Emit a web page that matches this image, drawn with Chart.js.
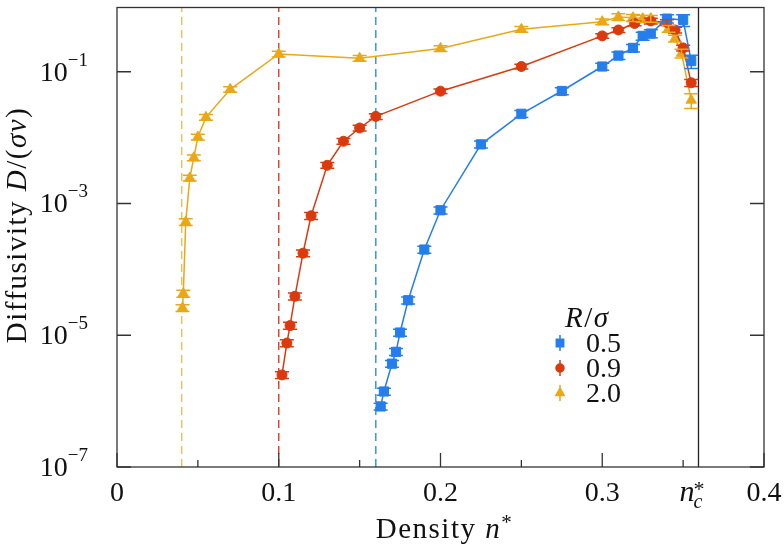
<!DOCTYPE html>
<html lang="en">
<head>
<meta charset="utf-8" />
<title>Diffusivity vs density</title>
<script src="https://cdn.jsdelivr.net/npm/chart.js@4.4.1/dist/chart.umd.min.js"></script>
<style>
  html, body { margin: 0; padding: 0; background: #fff; }
  #wrap { width: 784px; height: 546px; }
</style>
</head>
<body>
<div id="wrap"><canvas id="chart" width="784" height="546"></canvas></div>
<script>
// --- data ---
const legendTitle = ['R', '/', 'σ'];
const seriesLabels = ['0.5', '0.9', '2.0'];

// R/sigma = 0.5
const n05 = [0.163, 0.165, 0.17, 0.1725, 0.175, 0.18, 0.19, 0.2, 0.225, 0.25, 0.275, 0.3, 0.31, 0.319, 0.325, 0.33, 0.34, 0.35, 0.355];
const D05 = [8.3e-7, 1.4e-6, 3.7e-6, 5.6e-6, 1.1e-5, 3.4e-5, 2.0e-4, 7.9e-4, 7.9e-3, 0.023, 0.051, 0.12, 0.176, 0.23, 0.35, 0.38, 0.64, 0.61, 0.145];
const err05 = [0.12, 0.12, 0.12, 0.12, 0.12, 0.12, 0.12, 0.12, 0.12, 0.12, 0.12, 0.12, 0.13, 0.13, 0.14, 0.14, 0.14, 0.2, 0.23];

// R/sigma = 0.9
const n09 = [0.102, 0.105, 0.107, 0.11, 0.115, 0.12, 0.13, 0.14, 0.15, 0.16, 0.2, 0.25, 0.3, 0.31, 0.32, 0.33, 0.34, 0.345, 0.35, 0.355];
const D09 = [2.5e-6, 7.6e-6, 1.4e-5, 3.9e-5, 1.76e-4, 6.5e-4, 3.8e-3, 8.8e-3, 0.014, 0.021, 0.0507, 0.12, 0.35, 0.43, 0.54, 0.59, 0.56, 0.43, 0.23, 0.068];
const err09 = [0.12, 0.12, 0.12, 0.12, 0.12, 0.12, 0.1, 0.1, 0.1, 0.1, 0.08, 0.08, 0.08, 0.08, 0.08, 0.1, 0.1, 0.1, 0.1, 0.12];

// R/sigma = 2.0
const n20 = [0.0405, 0.041, 0.0425, 0.045, 0.0475, 0.05, 0.055, 0.07, 0.1, 0.15, 0.2, 0.25, 0.3, 0.31, 0.319, 0.325, 0.33, 0.341, 0.345, 0.349, 0.355];
const D20 = [2.6e-5, 4.3e-5, 5.25e-4, 2.43e-3, 4.95e-3, 0.0102, 0.0203, 0.054, 0.186, 0.16, 0.226, 0.44, 0.575, 0.68, 0.66, 0.64, 0.64, 0.45, 0.32, 0.19, 0.037];
const err20 = [0.12, 0.12, 0.12, 0.1, 0.1, 0.1, 0.1, 0.1, 0.1, 0.1, 0.1, 0.1, 0.1, 0.12, 0.12, 0.12, 0.12, 0.12, 0.12, 0.15, 0.25];

// percolation-like thresholds (dashed) and critical density (solid)
const thresholds = [0.04, 0.1, 0.16];
const nCritical = 0.3595;

// axis ticks
const xTickVals = [0, 0.1, 0.2, 0.3, 0.4];
const xMinorVals = [0.05, 0.15, 0.25, 0.35];
const yTickExps = [-7, -5, -3, -1];

// --- styles ---
const colors = ['rgb(36,126,236)', 'rgb(218,58,14)', 'rgb(234,168,22)'];
const dashColors = ['rgb(48,138,228)', 'rgb(212,62,36)', 'rgb(236,190,90)'];
const styles = ['rect', 'circle', 'triangle'];
const radii = [6.5, 5, 6];
const FONT = '"Liberation Serif", "DejaVu Serif", serif';
const frameColor = '#333';

const series = [
  { x: n05, y: D05, err: err05 },
  { x: n09, y: D09, err: err09 },
  { x: n20, y: D20, err: err20 }
];

function drawParts(ctx, parts, x, y, align, spacing) {
  // parts: [text, italic, size, dy]
  ctx.letterSpacing = (spacing || 0) + 'px';
  let total = 0;
  parts.forEach(p => {
    ctx.font = (p[1] ? 'italic ' : '') + p[2] + 'px ' + FONT;
    p.w = ctx.measureText(p[0]).width;
    total += p.w;
  });
  let cx = align === 'center' ? x - total / 2 : (align === 'right' ? x - total : x);
  ctx.textAlign = 'left';
  parts.forEach(p => {
    ctx.font = (p[1] ? 'italic ' : '') + p[2] + 'px ' + FONT;
    ctx.fillText(p[0], cx, y + (p[3] || 0));
    cx += p.w;
  });
  ctx.letterSpacing = '0px';
}

const decorPlugin = {
  id: 'decor',
  beforeDatasetsDraw(chart) {
    const ctx = chart.ctx, xs = chart.scales.x, a = chart.chartArea;
    ctx.save();
    ctx.lineWidth = 1.4;
    ctx.setLineDash([8, 5]);
    thresholds.forEach((t, i) => {
      const px = xs.getPixelForValue(t);
      ctx.strokeStyle = dashColors[2 - i];
      ctx.beginPath();
      ctx.moveTo(px, a.bottom);
      ctx.lineTo(px, a.top);
      ctx.stroke();
    });
    ctx.setLineDash([]);
    ctx.strokeStyle = '#222';
    ctx.lineWidth = 1.3;
    const pc = xs.getPixelForValue(nCritical);
    ctx.beginPath();
    ctx.moveTo(pc, a.top);
    ctx.lineTo(pc, a.bottom);
    ctx.stroke();
    ctx.restore();
  },
  afterDatasetsDraw(chart) {
    const ctx = chart.ctx, xs = chart.scales.x, ys = chart.scales.y, a = chart.chartArea;
    ctx.save();
    ctx.beginPath();
    ctx.rect(a.left, a.top, a.right - a.left, a.bottom - a.top);
    ctx.clip();
    ctx.lineWidth = 1.5;
    series.forEach((s, k) => {
      ctx.strokeStyle = colors[k];
      s.x.forEach((xv, i) => {
        const px = xs.getPixelForValue(xv);
        const lo = ys.getPixelForValue(s.y[i] * (1 - s.err[i]));
        const hi = ys.getPixelForValue(s.y[i] * (1 + s.err[i]));
        ctx.beginPath();
        ctx.moveTo(px, lo); ctx.lineTo(px, hi);
        ctx.moveTo(px - 7, lo); ctx.lineTo(px + 7, lo);
        ctx.moveTo(px - 7, hi); ctx.lineTo(px + 7, hi);
        ctx.stroke();
      });
    });
    ctx.restore();
  },
  afterDraw(chart) {
    const ctx = chart.ctx, xs = chart.scales.x, ys = chart.scales.y, a = chart.chartArea;
    ctx.save();
    // frame
    ctx.strokeStyle = frameColor;
    ctx.lineWidth = 1.3;
    ctx.strokeRect(a.left, a.top, a.right - a.left, a.bottom - a.top);
    // x ticks (inward)
    ctx.beginPath();
    xTickVals.forEach(v => {
      const px = xs.getPixelForValue(v);
      ctx.moveTo(px, a.bottom); ctx.lineTo(px, a.bottom - 14);
    });
    xMinorVals.forEach(v => {
      const px = xs.getPixelForValue(v);
      ctx.moveTo(px, a.bottom); ctx.lineTo(px, a.bottom - 7);
    });
    // y ticks left and right
    yTickExps.forEach(e => {
      const py = ys.getPixelForValue(Math.pow(10, e));
      ctx.moveTo(a.left, py); ctx.lineTo(a.left + 14, py);
      ctx.moveTo(a.right, py); ctx.lineTo(a.right - 14, py);
    });
    ctx.stroke();

    ctx.fillStyle = '#111';
    ctx.textBaseline = 'alphabetic';
    // x tick labels
    xTickVals.forEach(v => {
      const px = xs.getPixelForValue(v);
      ctx.font = '28px ' + FONT;
      ctx.textAlign = 'center';
      ctx.fillText(v === 0 ? '0' : v.toFixed(1), px, a.bottom + 34);
    });
    // n_c^* label
    const pc = xs.getPixelForValue(nCritical);
    ctx.font = 'italic 30px ' + FONT;
    ctx.textAlign = 'right';
    ctx.fillText('n', pc - 4, a.bottom + 34);
    ctx.textAlign = 'left';
    ctx.font = '22px ' + FONT;
    ctx.fillText('*', pc - 5, a.bottom + 29);
    ctx.font = 'italic 20px ' + FONT;
    ctx.fillText('c', pc - 5, a.bottom + 41);

    // y tick labels 10^e
    yTickExps.forEach(e => {
      const py = ys.getPixelForValue(Math.pow(10, e));
      ctx.font = '19px ' + FONT;
      const sup = '\u2212' + Math.abs(e);
      const sw = ctx.measureText(sup).width;
      ctx.textAlign = 'left';
      ctx.fillText(sup, 88 - sw, py - 6);
      ctx.font = '28px ' + FONT;
      ctx.textAlign = 'right';
      ctx.fillText('10', 88 - sw, py + 9);
    });

    // axis titles
    drawParts(ctx, [['Density ', false, 29], ['n', true, 29], ['*', false, 21, -9]], (a.left + a.right) / 2 + 4, 538, 'center', 1.5);
    ctx.save();
    ctx.translate(26, 225);
    ctx.rotate(-Math.PI / 2);
    drawParts(ctx, [['Diffusivity ', false, 29], ['D', true, 29], ['/(', false, 29], ['σv', true, 29], [')', false, 29]], 0, 0, 'center', 1.5);
    ctx.restore();

    // legend
    drawParts(ctx, [[legendTitle[0], true, 29], [legendTitle[1], false, 29], [legendTitle[2], true, 29]], 565, 327, 'left', 1.5);
    seriesLabels.forEach((lab, k) => {
      const ly = 343 + k * 25;
      ctx.strokeStyle = colors[k];
      ctx.fillStyle = colors[k];
      ctx.lineWidth = 1.5;
      ctx.beginPath();
      ctx.moveTo(560, ly - 8); ctx.lineTo(560, ly + 8);
      ctx.stroke();
      Chart.helpers.drawPoint(ctx, { pointStyle: styles[k], radius: radii[k] * 0.8, rotation: 0, borderWidth: 1 }, 560, ly);
      ctx.fillStyle = '#111';
      ctx.font = '28px ' + FONT;
      ctx.textAlign = 'left';
      ctx.fillText(lab, 586, ly + 9);
    });
    ctx.restore();
  }
};

const datasets = series.map((s, k) => ({
  label: seriesLabels[k],
  data: s.x.map((xv, i) => ({ x: xv, y: s.y[i] })),
  showLine: true,
  borderColor: colors[k],
  backgroundColor: colors[k],
  borderWidth: 1.5,
  pointStyle: styles[k],
  pointRadius: radii[k],
  pointBorderWidth: 1,
  tension: 0
}));

new Chart(document.getElementById('chart'), {
  type: 'scatter',
  data: { datasets: datasets },
  options: {
    responsive: false,
    animation: false,
    layout: { padding: { top: 3, right: 20, left: 0, bottom: 0 } },
    plugins: { legend: { display: false }, tooltip: { enabled: false } },
    scales: {
      x: {
        type: 'linear', min: 0, max: 0.4,
        ticks: { display: false },
        grid: { display: false },
        border: { display: false },
        afterFit: s => { s.height = 79; }
      },
      y: {
        type: 'logarithmic', min: 1e-7, max: 0.944,
        ticks: { display: false },
        grid: { display: false },
        border: { display: false },
        afterFit: s => { s.width = 117; }
      }
    }
  },
  plugins: [decorPlugin]
});
</script>
</body>
</html>
